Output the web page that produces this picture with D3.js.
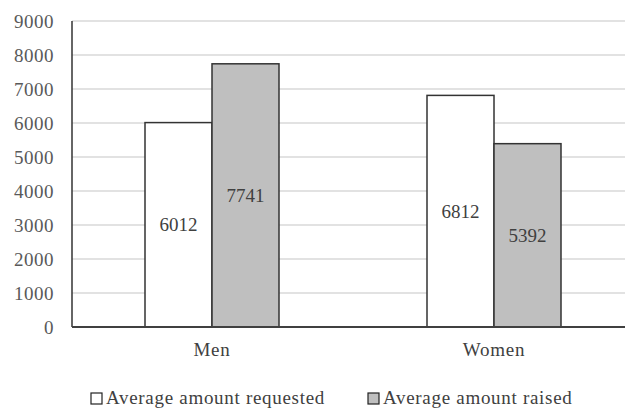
<!DOCTYPE html>
<html>
<head>
<meta charset="utf-8">
<script src="https://cdn.jsdelivr.net/npm/d3@7"></script>
<style>
  html, body { margin: 0; padding: 0; background: #fff; }
  svg { display: block; }
  svg text { font-family: "Liberation Serif", "Times New Roman", Times, "DejaVu Serif", serif !important; }
</style>
</head>
<body>
<svg id="chart" width="625" height="410"></svg>
<script>
const categories = ["Men", "Women"];
const seriesNames = ["Average amount requested", "Average amount raised"];
const requested = [6012, 6812];
const raised = [7741, 5392];
const yTicks = [0, 1000, 2000, 3000, 4000, 5000, 6000, 7000, 8000, 9000];

const fills = ["#ffffff", "#bfbfbf"];
const svg = d3.select("#chart");

const y = d3.scaleLinear().domain([0, 9000]).range([327, 21]);
const x0 = d3.scaleBand().domain(categories).range([71, 635]);
const groupW = 134;
const x1 = d3.scaleBand().domain(seriesNames).range([0, groupW]);
const groupOffset = (x0.bandwidth() - groupW) / 2;

// gridlines
svg.append("g").selectAll("line").data(yTicks.filter(t => t > 0)).join("line")
  .attr("x1", 72).attr("x2", 625)
  .attr("y1", d => y(d)).attr("y2", d => y(d))
  .attr("stroke", "#d9d9d9").attr("stroke-width", 1.3);

// y axis labels
const yAxis = d3.axisLeft(y).tickValues(yTicks).tickFormat(d3.format("d")).tickSize(0).tickPadding(0);
const ya = svg.append("g").attr("transform", "translate(54,0)").call(yAxis);
ya.select(".domain").remove();
ya.selectAll("text").attr("font-size", 19).attr("fill", "#595959").attr("letter-spacing", 0.5);

// bars
const data = categories.map((c, i) => ({ cat: c, vals: [
  { s: seriesNames[0], v: requested[i], k: 0 },
  { s: seriesNames[1], v: raised[i], k: 1 }
]}));

const groups = svg.append("g").selectAll("g").data(data).join("g")
  .attr("transform", d => `translate(${x0(d.cat) + groupOffset},0)`);

groups.selectAll("rect").data(d => d.vals).join("rect")
  .attr("x", d => x1(d.s))
  .attr("y", d => y(d.v))
  .attr("width", x1.bandwidth())
  .attr("height", d => y(0) - y(d.v))
  .attr("fill", d => fills[d.k])
  .attr("stroke", "#333")
  .attr("stroke-width", 1.5);

groups.selectAll("text.val").data(d => d.vals).join("text")
  .attr("class", "val")
  .attr("x", d => x1(d.s) + x1.bandwidth() / 2)
  .attr("y", d => (y(d.v) + y(0)) / 2)
  .attr("dy", "0.35em")
  .attr("text-anchor", "middle")
  .attr("font-size", 19)
  .attr("fill", "#404040")
  .text(d => d.v);

// axes lines
svg.append("line").attr("x1", 72).attr("x2", 72).attr("y1", 21).attr("y2", 327)
  .attr("stroke", "#333").attr("stroke-width", 1.5);
svg.append("line").attr("x1", 72).attr("x2", 625).attr("y1", 327).attr("y2", 327)
  .attr("stroke", "#404040").attr("stroke-width", 2);

// category labels
const xAxis = d3.axisBottom(x0).tickSize(0).tickPadding(0);
const xa = svg.append("g").attr("transform", "translate(0,343)").call(xAxis);
xa.select(".domain").remove();
xa.selectAll("text").attr("font-size", 19).attr("fill", "#404040").attr("dy", "0.7em")
  .attr("letter-spacing", 0.8);

// legend
const legendX = [91, 368];
const leg = svg.append("g").selectAll("g").data(seriesNames).join("g")
  .attr("transform", (d, i) => `translate(${legendX[i]},393)`);
leg.append("rect").attr("width", 11).attr("height", 11)
  .attr("fill", (d, i) => fills[i]).attr("stroke", "#222").attr("stroke-width", 1.2);
leg.append("text").attr("x", 15).attr("y", 11)
  .attr("font-size", 19).attr("fill", "#404040").attr("letter-spacing", 0.7).text(d => d);
</script>
</body>
</html>
